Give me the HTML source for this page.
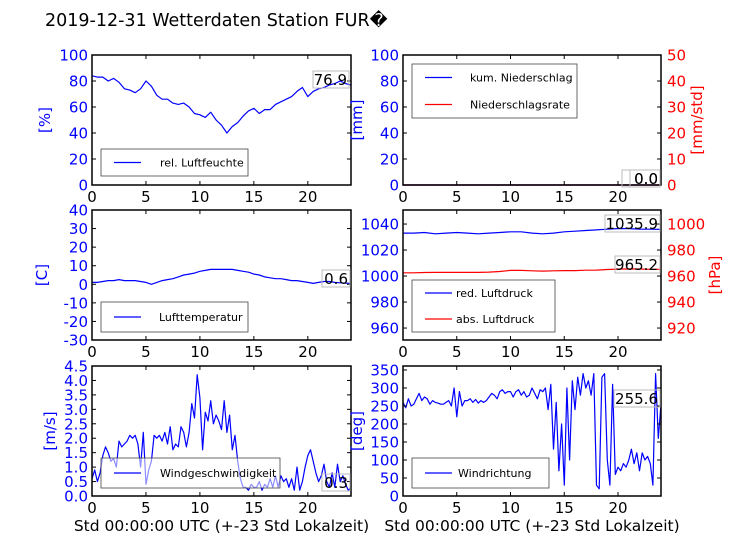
<!DOCTYPE html>
<html><head><meta charset="utf-8">
<style>
html,body{margin:0;padding:0;background:#fff;}
svg{display:block;font-family:"DejaVu Sans","Liberation Sans",sans-serif;}
</style></head>
<body>
<svg id="fig" width="736" height="552" viewBox="0 0 736 552" xmlns="http://www.w3.org/2000/svg">
<rect width="736" height="552" fill="#fff"/>
<text x="45" y="26" font-size="17.5" fill="#000">2019-12-31 Wetterdaten Station FUR&#xFFFD;</text>
</svg>
<script>
// ---- data ----
const xTicks = [0,5,10,15,20];
const humidity = [84,83,83,80,82,79,74,73,71,74,80,76,69,66,66,63,62,63,60,55,54,52,56,50,46,40,45,48,53,57,59,55,58,58,62,64,66,68,72,75,68,72,74,75,77,78,80,78,76.9];
const temperature = [1,1,1.5,2,2,2.5,2,2,2,1.5,1,0,1,2,2.5,3,4,5,5.5,6,7,7.5,8,8,8,8,8,7.5,7,6.5,5.5,5,4,3.5,3,3,2.5,2,2,1.5,1,0.5,1,1.5,1.5,1,0.8,0.6,0.6];
const precipSum = [0,0,0,0,0,0,0,0,0,0,0,0,0,0,0,0,0,0,0,0,0,0,0,0,0];
const precipRate = [0,0,0,0,0,0,0,0,0,0,0,0,0,0,0,0,0,0,0,0,0,0,0,0,0];
const pressureRed = [1033,1033,1033.5,1032.5,1033,1033.5,1033,1032.5,1033,1033.5,1034,1034,1033,1032.5,1033,1034,1034.5,1035,1035.5,1036,1036.5,1036.5,1036,1036,1035.9];
const pressureAbs = [962.5,962.5,962.7,962.8,962.8,962.8,962.8,962.8,963,963.5,964.3,964.3,964,963.8,964,964.2,964.2,964.5,964.6,965,965.3,965.5,965.4,965.2,965.2];
const windSpeed = [0.6,0.9,0.5,0.8,1.4, 1.7,1.5,1.2,1.3, 1.0,1.9,1.7,1.8, 1.9,2.1,2.0,2.1, 1.8,1.0,2.2,0.4, 0.9,1.2,2.1,2.0, 2.1,1.9,2.2,1.8, 2.4,1.6,1.8,1.7, 2.4,2.2,1.7,2.2, 3.2,2.7,4.2,3.4, 1.6,2.9,2.6,3.3, 2.5,2.8,2.6,2.3, 3.3,2.2,2.8,1.6, 2.1,1.2,0.6,0.3, 0.3,0.2,0.4,0.3, 0.3,0.5,0.2,0.4, 0.3,0.6,0.3,0.7, 0.3,0.7,0.5,0.6, 0.3,0.6,0.2,1.0, 0.2,0.5,1.0,1.4, 1.6,1.2,0.8,0.5, 0.7,1.1,0.5,0.3, 0.8,0.3,1.1,0.5, 0.7,0.4,0.2,0.3];
const windDir = [260,245,270,250,255, 270,285,265,275, 270,255,265,260, 258,255,255,260, 265,250,300,220, 290,250,265,265, 270,260,268,258, 265,260,265,275, 285,280,270,290, 295,285,290,290, 275,290,295,280, 290,275,280,300, 285,270,295,290, 300,240,310,130, 260,70,200,30, 300,100,320,240, 330,280,340,300, 320,280,340,30, 20,330,340,100, 30,310,60,80, 70,90,80,100, 130,90,120,70, 120,100,110,90, 30,340,160,255.6];
const tickHum = [0,20,40,60,80,100];
const tickMm = [0,20,40,60,80,100];
const tickMmStd = [0,10,20,30,40,50];
const tickTemp = [-30,-20,-10,0,10,20,30,40];
const tickRed = [960,980,1000,1020,1040];
const tickAbs = [920,940,960,980,1000];
const tickWind = [0,0.5,1,1.5,2,2.5,3,3.5,4,4.5];
const tickDir = [0,50,100,150,200,250,300,350];

const NS="http://www.w3.org/2000/svg";
const svg=document.getElementById('fig');
function mk(tag,attrs,parent){const e=document.createElementNS(NS,tag);for(const k in attrs)e.setAttribute(k,attrs[k]);(parent||svg).appendChild(e);return e;}
function scale(d0,d1,r0,r1){return v=>r0+(v-d0)/(d1-d0)*(r1-r0);}

function panel(o){
  const g=mk('g',{});
  
  
  const X=scale(0,24,o.x0,o.x1), Y=scale(o.ymin,o.ymax,o.y1,o.y0);
  const Y2=o.y2?scale(o.y2.min,o.y2.max,o.y1,o.y0):null;
  o.series.forEach(s=>{
    const yf=s.right?Y2:Y;const n=s.data.length;
    const pts=s.data.map((v,i)=>X(i*24/(n-1)).toFixed(1)+','+yf(v).toFixed(1)).join(' ');
    const p=mk('polyline',{points:pts,fill:'none',stroke:s.color,'stroke-width':1.2,'stroke-linejoin':'round'},g);
    
    
  });
  const fr=mk('rect',{x:o.x0,y:o.y0,width:o.x1-o.x0,height:o.y1-o.y0,fill:'none',stroke:'#000','stroke-width':1.5},g);
  
  
  xTicks.forEach(t=>{
    const x=X(t);
    mk('line',{x1:x,y1:o.y1,x2:x,y2:o.y1-4,stroke:'#000'},g);
    mk('line',{x1:x,y1:o.y0,x2:x,y2:o.y0+4,stroke:'#000'},g);
    const tl=mk('text',{x:x,y:o.y1+17,'font-size':15,'text-anchor':'middle',fill:'#000'},g);
    tl.textContent=t;
    
    
  });
  o.yticks.forEach(t=>{
    const y=Y(t);
    mk('line',{x1:o.x0,y1:y,x2:o.x0+4,y2:y,stroke:'#000'},g);
    if(!Y2) mk('line',{x1:o.x1,y1:y,x2:o.x1-4,y2:y,stroke:'#000'},g);
    const tl=mk('text',{x:o.x0-4,y:y+5.5,'font-size':15,'text-anchor':'end',fill:'#0000ff'},g);
    tl.textContent=o.fmt?o.fmt(t):t;
    
    
  });
  if(Y2){o.y2.ticks.forEach(t=>{
    const y=Y2(t);
    mk('line',{x1:o.x1,y1:y,x2:o.x1-4,y2:y,stroke:'#000'},g);
    const tl=mk('text',{x:o.x1+6,y:y+5.5,'font-size':15,'text-anchor':'start',fill:'#ff0000'},g);
    tl.textContent=t;
    
    
  });
    const yl=mk('text',{x:0,y:0,'font-size':15,'text-anchor':'middle',fill:'#ff0000',transform:`translate(${o.y2.lx},${(o.y0+o.y1)/2}) rotate(-90)`},g);
    yl.textContent=o.y2.label;
    
    
  }
  const yl=mk('text',{x:0,y:0,'font-size':15,'text-anchor':'middle',fill:'#0000ff',transform:`translate(${o.lx},${(o.y0+o.y1)/2}) rotate(-90)`},g);
  yl.textContent=o.ylabel;
  
  
  const L=o.legend;
  const lg=mk('g',{},g);
  
  
  mk('rect',{x:L.x,y:L.y,width:L.w,height:L.h,fill:'#fff','fill-opacity':0.55,stroke:'#444','stroke-width':0.8},lg);
  L.items.forEach((it,i)=>{
    const cy=L.y+(L.h/(L.items.length))*(i+0.5);
    mk('line',{x1:L.x+13,y1:cy,x2:L.x+40,y2:cy,stroke:it.c,'stroke-width':1.3},lg);
    const t=mk('text',{x:L.x+L.tx,y:cy+4,'font-size':11,fill:'#000'},lg);
    t.textContent=it.t;
    
    
  });
  (o.boxes||[]).forEach(b=>{
    mk('rect',{x:b.x,y:b.y,width:b.w,height:17,fill:'none',stroke:'#bbb','stroke-width':1},g);
    const t=mk('text',{x:b.x+b.w-2,y:b.y+14,'font-size':15,'text-anchor':'end',fill:'#000'},g);
    t.textContent=b.t;
    
    
  });
  if(o.xlabel){
    const t=mk('text',{x:(o.x0+o.x1)/2,y:o.y1+35,'font-size':15.5,'text-anchor':'middle',fill:'#000'},g);
    t.textContent=o.xlabel;
    
    
  }
}
const L0=92,L1=351,R0=403,R1=661;
panel({name:'humidity-panel',x0:L0,x1:L1,y0:55,y1:185,ymin:0,ymax:100,yticks:tickHum,ylabel:'[%]',lx:50,
  series:[{data:humidity,color:'#0000ff',sname:'humidity-line'}],
  legend:{x:101,y:149,w:147,h:27,tx:59,items:[{c:'#0000ff',t:'rel. Luftfeuchte'}]},
  boxes:[{x:313,y:71,w:36,t:'76.9'}]});
panel({name:'precipitation-panel',x0:R0,x1:R1,y0:55,y1:185,ymin:0,ymax:100,yticks:tickMm,ylabel:'[mm]',lx:362,
  y2:{min:0,max:50,ticks:tickMmStd,label:'[mm/std]',lx:702},
  series:[{data:precipSum,color:'#0000ff',sname:'precip-sum-line'},{data:precipRate,color:'#ff0000',right:true,sname:'precip-rate-line'}],
  legend:{x:412,y:64,w:165,h:54,tx:58,items:[{c:'#0000ff',t:'kum. Niederschlag'},{c:'#ff0000',t:'Niederschlagsrate'}]},
  boxes:[{x:622,y:170,w:38,t:'0.0'},{x:630,y:170,w:30,t:'0.0'}]});
panel({name:'temperature-panel',x0:L0,x1:L1,y0:210,y1:340,ymin:-30,ymax:40,yticks:tickTemp,ylabel:'[C]',lx:47,
  series:[{data:temperature,color:'#0000ff',sname:'temperature-line'}],
  legend:{x:101,y:302,w:147,h:30,tx:58,items:[{c:'#0000ff',t:'Lufttemperatur'}]},
  boxes:[{x:322,y:270,w:28,t:'0.6'}]});
panel({name:'pressure-panel',x0:R0,x1:R1,y0:210,y1:340,ymin:950.8,ymax:1050.8,yticks:tickRed,ylabel:'',lx:360,
  y2:{min:910.8,max:1010.8,ticks:tickAbs,label:'[hPa]',lx:720},
  series:[{data:pressureRed,color:'#0000ff',sname:'reduced-pressure-line'},{data:pressureAbs,color:'#ff0000',right:true,sname:'absolute-pressure-line'}],
  legend:{x:412,y:280,w:143,h:52,tx:44,items:[{c:'#0000ff',t:'red. Luftdruck'},{c:'#ff0000',t:'abs. Luftdruck'}]},
  boxes:[{x:605,y:215,w:55,t:'1035.9'},{x:615,y:256,w:45,t:'965.2'}]});
panel({name:'wind-speed-panel',x0:L0,x1:L1,y0:366,y1:496,ymin:0,ymax:4.5,yticks:tickWind,ylabel:'[m/s]',lx:55,fmt:v=>v.toFixed(1),
  series:[{data:windSpeed,color:'#0000ff',sname:'wind-speed-line'}],
  legend:{x:101,y:458,w:179,h:30,tx:59,items:[{c:'#0000ff',t:'Windgeschwindigkeit'}]},
  boxes:[{x:322,y:474,w:28,t:'0.3'}],xlabel:'Std 00:00:00 UTC (+-23 Std Lokalzeit)'});
panel({name:'wind-direction-panel',x0:R0,x1:R1,y0:366,y1:496,ymin:0,ymax:361,yticks:tickDir,ylabel:'[deg]',lx:362,
  series:[{data:windDir,color:'#0000ff',sname:'wind-direction-line'}],
  legend:{x:412,y:458,w:137,h:30,tx:46,items:[{c:'#0000ff',t:'Windrichtung'}]},
  boxes:[{x:614,y:390,w:46,t:'255.6'}],xlabel:'Std 00:00:00 UTC (+-23 Std Lokalzeit)'});
</script>
</body></html>
